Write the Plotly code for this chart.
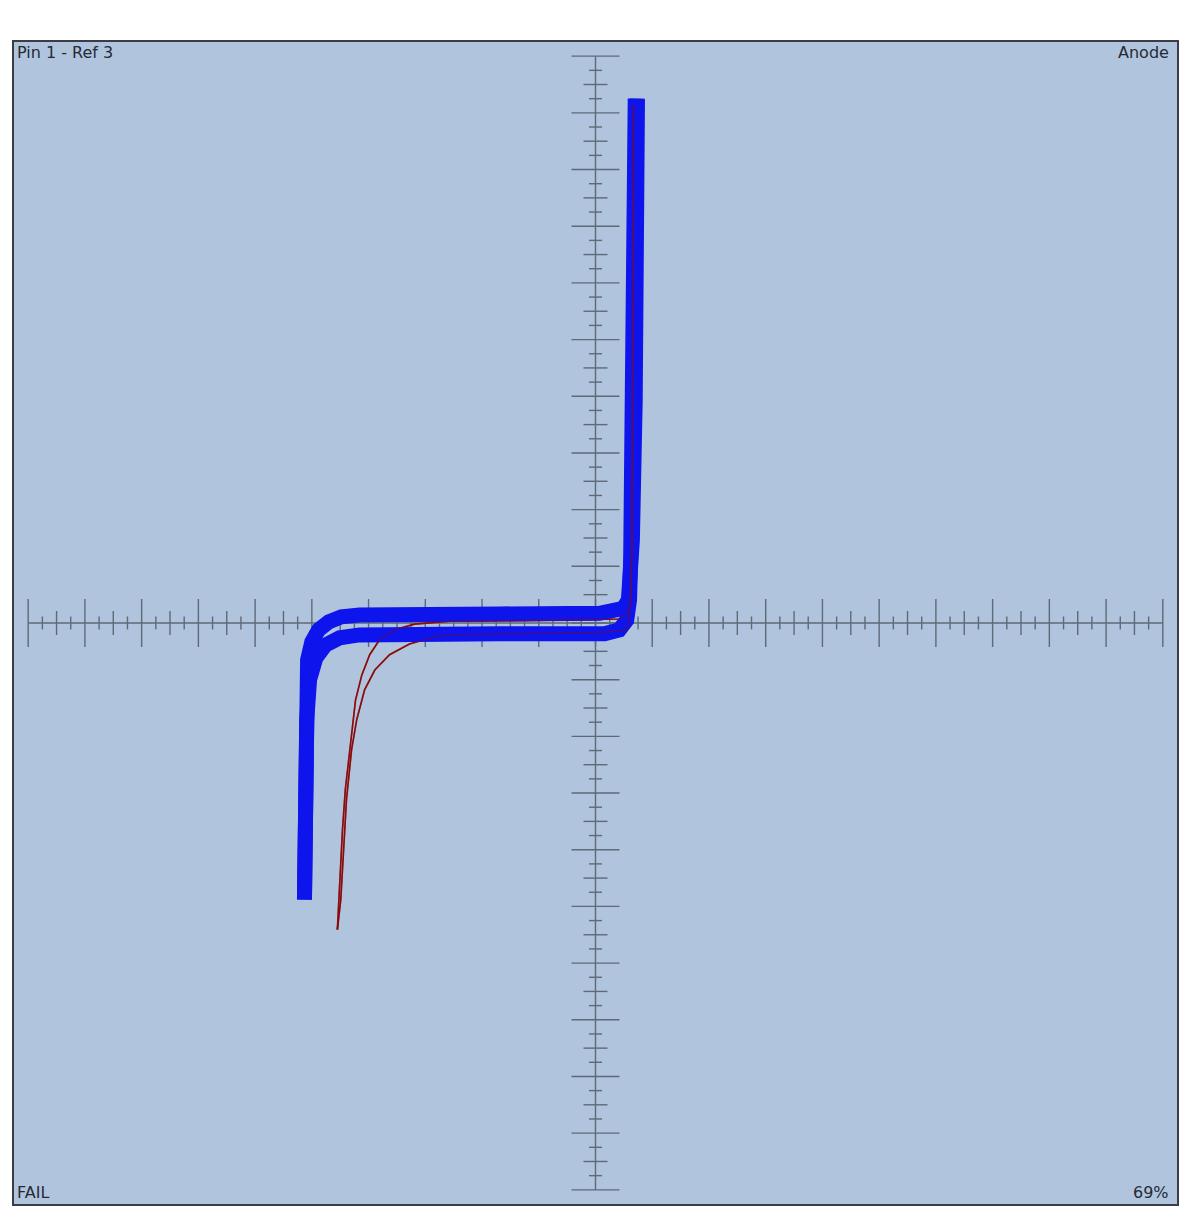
import plotly.graph_objects as go

# ---------------- data ----------------
# Blue trace (reference curve): forward sweep then return sweep
blue_fwd_x = [-5.13, -5.13, -5.11, -5.075, -5.00, -4.88, -4.70, -4.48, -4.16, -3.45, -1.69, 0.07, 0.33, 0.49, 0.58, 0.62, 0.65, 0.70, 0.74, 0.74]
blue_fwd_y = [-4.88, -2.24, -1.18, -0.65, -0.33, -0.12, 0.02, 0.11, 0.14, 0.16, 0.16, 0.17, 0.19, 0.26, 0.41, 0.76, 1.46, 3.93, 6.57, 9.25]
blue_ret_x = [0.70, 0.69, 0.65, 0.62, 0.60, 0.55, 0.42, 0.16, -1.69, -3.10, -4.16, -4.51, -4.76, -4.93, -5.04, -5.09, -5.11, -5.13]
blue_ret_y = [9.25, 5.69, 3.05, 1.11, 0.41, 0.05, -0.12, -0.19, -0.19, -0.19, -0.21, -0.26, -0.39, -0.62, -1.00, -1.71, -3.12, -4.88]

# Red trace (measured curve)
red_up_x = [-4.55, -4.51, -4.46, -4.41, -4.35, -4.30, -4.23, -4.12, -3.98, -3.81, -3.54, -3.19, -2.57, -0.81, 0.42, 0.60, 0.65, 0.67, 0.67]
red_up_y = [-5.41, -4.53, -3.65, -2.94, -2.41, -1.89, -1.36, -0.92, -0.56, -0.30, -0.12, -0.02, 0.03, 0.05, 0.07, 0.23, 1.29, 5.69, 9.13]
red_dn_x = [0.67, 0.65, 0.63, 0.56, 0.07, -1.69, -2.75, -3.28, -3.63, -3.89, -4.07, -4.21, -4.30, -4.39, -4.44, -4.49, -4.55]
red_dn_y = [9.13, 3.93, 0.41, -0.12, -0.17, -0.19, -0.22, -0.37, -0.56, -0.83, -1.18, -1.71, -2.24, -3.12, -4.00, -4.88, -5.41]

# Axis graticule
axis_min, axis_max = -10, 10
major_ticks = list(range(-10, 11))
medium_ticks = [v + 0.5 for v in range(-10, 10)]
minor_ticks = [v + 0.25 for v in range(-10, 10)] + [v + 0.75 for v in range(-10, 10)]

corner_labels = {"tl": "Pin 1 - Ref 3", "tr": "Anode", "bl": "FAIL", "br": "69%"}

# ---------------- figure ----------------
W, H = 1176, 1211
ML, MR, MT, MB = 6, 7, 34, 15
RANGE = 10.25

px_per_unit = (W - ML - MR) / (2 * RANGE)
major_len = 24 / px_per_unit
medium_len = 12 / px_per_unit
minor_len = 6.5 / px_per_unit

gx, gy = [], []
gx += [axis_min, axis_max, None, 0, 0, None]
gy += [0, 0, None, axis_min, axis_max, None]
for ticks, ln in ((major_ticks, major_len), (medium_ticks, medium_len), (minor_ticks, minor_len)):
    for t in ticks:
        gx += [t, t, None]
        gy += [-ln, ln, None]
        gx += [-ln, ln, None]
        gy += [t, t, None]

fig = go.Figure()
fig.add_trace(go.Scatter(x=gx, y=gy, mode="lines",
                         line=dict(color="#5E6A78", width=1.4),
                         hoverinfo="skip", showlegend=False))

red = "rgb(139,10,10)"
# red drawn beneath the blue ...
fig.add_trace(go.Scatter(x=red_up_x, y=red_up_y, mode="lines",
                         line=dict(color=red, width=1.6), showlegend=False))
fig.add_trace(go.Scatter(x=red_dn_x, y=red_dn_y, mode="lines",
                         line=dict(color=red, width=1.6), showlegend=False))

blue = "rgb(14,20,236)"
fig.add_trace(go.Scatter(x=blue_fwd_x, y=blue_fwd_y, mode="lines",
                         line=dict(color=blue, width=15), showlegend=False))
fig.add_trace(go.Scatter(x=blue_ret_x, y=blue_ret_y, mode="lines",
                         line=dict(color=blue, width=15), showlegend=False))

# ... and faintly showing through it
fig.add_trace(go.Scatter(x=red_up_x, y=red_up_y, mode="lines", opacity=0.4,
                         line=dict(color=red, width=1.6), showlegend=False, hoverinfo="skip"))
fig.add_trace(go.Scatter(x=red_dn_x, y=red_dn_y, mode="lines", opacity=0.4,
                         line=dict(color=red, width=1.6), showlegend=False, hoverinfo="skip"))

font = dict(family="DejaVu Sans", size=16, color="#262A35")
fig.add_annotation(x=0, y=1, xref="paper", yref="paper", xanchor="left", yanchor="top",
                   text=corner_labels["tl"], showarrow=False, font=font, xshift=1, yshift=1)
fig.add_annotation(x=1, y=1, xref="paper", yref="paper", xanchor="right", yanchor="top",
                   text=corner_labels["tr"], showarrow=False, font=font, xshift=-6, yshift=1)
fig.add_annotation(x=0, y=0, xref="paper", yref="paper", xanchor="left", yanchor="bottom",
                   text=corner_labels["bl"], showarrow=False, font=font, xshift=1, yshift=0)
fig.add_annotation(x=1, y=0, xref="paper", yref="paper", xanchor="right", yanchor="bottom",
                   text=corner_labels["br"], showarrow=False, font=font, xshift=-6, yshift=0)

axis_common = dict(range=[-RANGE, RANGE], showgrid=False, zeroline=False,
                   showticklabels=False, ticks="", showline=True, mirror=True,
                   linecolor="#3A3D45", linewidth=1.5, fixedrange=True)
fig.update_layout(
    width=W, height=H,
    margin=dict(l=ML, r=MR, t=MT, b=MB),
    paper_bgcolor="white",
    plot_bgcolor="#B0C4DE",
    xaxis=axis_common,
    yaxis=axis_common,
    showlegend=False,
)

fig.write_html("out.html")
